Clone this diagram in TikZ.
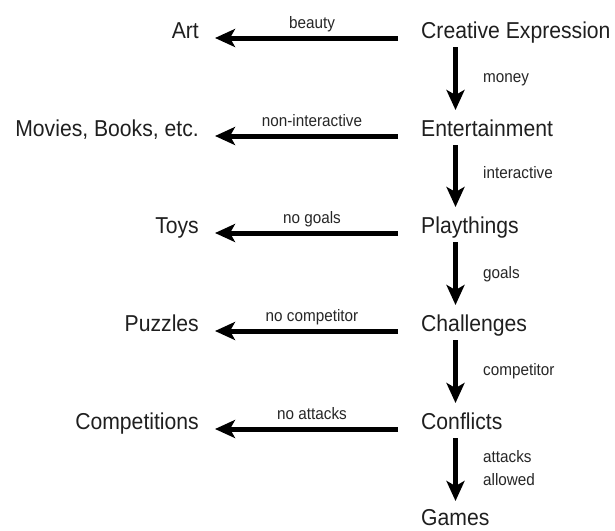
\documentclass[tikz,border=0pt]{standalone}
\usepackage{fontspec}
\setmainfont{Liberation Sans}
\newfontfamily\mainfam[FakeStretch=0.92]{Liberation Sans}
\newfontfamily\lblfam[FakeStretch=0.92]{Liberation Sans}
\usetikzlibrary{arrows.meta}
\tikzset{
  main/.style={inner sep=0pt, font=\mainfam\fontsize{23}{27}\selectfont, text=black!88},
  lbl/.style={inner sep=0pt, font=\lblfam\fontsize{16.6}{23}\selectfont, text=black!85},
  arr/.style={line width=5pt, -{Stealth[length=20pt,width=18pt,inset=5pt]}},
}
\begin{document}
\begin{tikzpicture}[x=1pt,y=1pt]
\useasboundingbox (0,0) rectangle (615,-530);
% right column
\node[main, anchor=base west] (ce) at (421,-38) {Creative Expression};
\node[main, anchor=base west] (en) at (421,-136) {Entertainment};
\node[main, anchor=base west] (pl) at (421,-233) {Playthings};
\node[main, anchor=base west] (ch) at (421,-331) {Challenges};
\node[main, anchor=base west] (co) at (421,-429) {Conflicts};
\node[main, anchor=base west] (ga) at (421,-525) {Games};
% left column
\node[main, anchor=base east] (art) at (199,-38) {Art};
\node[main, anchor=base east] (mov) at (199,-136) {Movies, Books, etc.};
\node[main, anchor=base east] (toy) at (199,-233) {Toys};
\node[main, anchor=base east] (puz) at (199,-331) {Puzzles};
\node[main, anchor=base east] (cmp) at (199,-429) {Competitions};
% horizontal arrows
\draw[arr] ([xshift=-23pt]ce.base west) -- ([xshift=16pt]art.base east);
\draw[arr] ([xshift=-23pt]en.base west) -- ([xshift=16pt]mov.base east);
\draw[arr] ([xshift=-23pt]pl.base west) -- ([xshift=16pt]toy.base east);
\draw[arr] ([xshift=-23pt]ch.base west) -- ([xshift=16pt]puz.base east);
\draw[arr] ([xshift=-23pt]co.base west) -- ([xshift=16pt]cmp.base east);
% horizontal labels
\node[lbl, anchor=base] (l1) at (312,-28) {beauty};
\node[lbl, anchor=base] (l2) at (312,-126) {non-interactive};
\node[lbl, anchor=base] (l3) at (312,-223) {no goals};
\node[lbl, anchor=base] (l4) at (312,-321) {no competitor};
\node[lbl, anchor=base] (l5) at (312,-419) {no attacks};
% vertical arrows
\draw[arr] ([shift={(34.5pt,-9pt)}]ce.base west) -- ([shift={(34.5pt,26pt)}]en.base west);
\draw[arr] ([shift={(34.5pt,-9pt)}]en.base west) -- ([shift={(34.5pt,26pt)}]pl.base west);
\draw[arr] ([shift={(34.5pt,-9pt)}]pl.base west) -- ([shift={(34.5pt,26pt)}]ch.base west);
\draw[arr] ([shift={(34.5pt,-9pt)}]ch.base west) -- ([shift={(34.5pt,26pt)}]co.base west);
\draw[arr] ([shift={(34.5pt,-9pt)}]co.base west) -- ([shift={(34.5pt,24pt)}]ga.base west);
% vertical labels
\node[lbl, anchor=base west] (v1) at (483,-82) {money};
\node[lbl, anchor=base west] (v2) at (483,-178) {interactive};
\node[lbl, anchor=base west] (v3) at (483,-278) {goals};
\node[lbl, anchor=base west] (v4) at (483,-375) {competitor};
\node[lbl, anchor=base west, align=left] (v5) at (483,-485) {attacks\\allowed};
\end{tikzpicture}
\end{document}
